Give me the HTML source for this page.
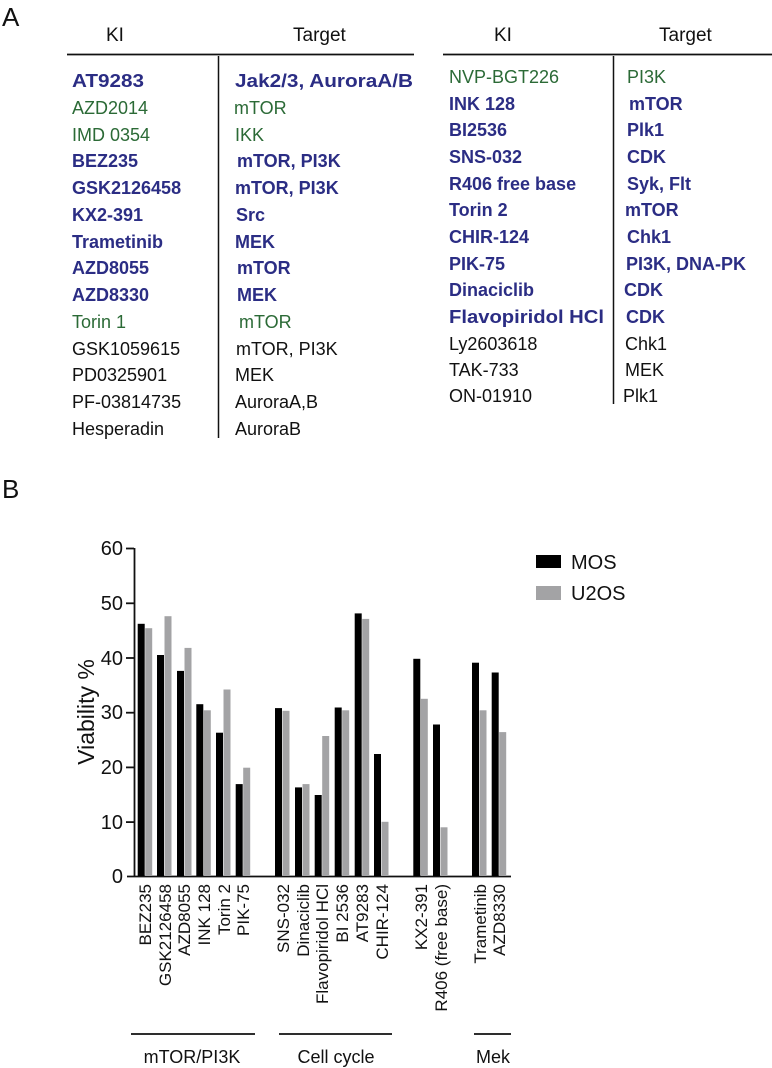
<!DOCTYPE html>
<html><head><meta charset="utf-8"><style>
body{margin:0;background:#fff}
svg{display:block;font-family:"Liberation Sans",sans-serif}
.b{fill:#2b2d84;font-weight:bold}
.g{fill:#2b6a36}
.k{fill:#111}
</style></head><body>
<svg width="772" height="1068" viewBox="0 0 772 1068" xmlns="http://www.w3.org/2000/svg">
<text x="2" y="26" font-size="26" class="k">A</text>
<text x="2" y="498" font-size="26" class="k">B</text>
<!-- left table -->
<text x="106" y="41" font-size="19" class="k">KI</text>
<text x="293" y="41" font-size="19" class="k">Target</text>
<line x1="67" y1="54.5" x2="414" y2="54.5" stroke="#111" stroke-width="1.8"/>
<line x1="218.5" y1="56" x2="218.5" y2="438" stroke="#111" stroke-width="1.5"/>
<g font-size="18">
<text x="72" y="87" class="b" textLength="72" lengthAdjust="spacingAndGlyphs">AT9283</text><text x="235" y="87" class="b" textLength="178" lengthAdjust="spacingAndGlyphs">Jak2/3, AuroraA/B</text>
<text x="72" y="114" class="g">AZD2014</text><text x="234" y="114" class="g">mTOR</text>
<text x="72" y="141" class="g">IMD 0354</text><text x="235" y="141" class="g">IKK</text>
<text x="72" y="167" class="b">BEZ235</text><text x="237" y="167" class="b">mTOR, PI3K</text>
<text x="72" y="194" class="b">GSK2126458</text><text x="235" y="194" class="b">mTOR, PI3K</text>
<text x="72" y="221" class="b">KX2-391</text><text x="236" y="221" class="b">Src</text>
<text x="72" y="248" class="b">Trametinib</text><text x="235" y="248" class="b">MEK</text>
<text x="72" y="274" class="b">AZD8055</text><text x="237" y="274" class="b">mTOR</text>
<text x="72" y="301" class="b">AZD8330</text><text x="237" y="301" class="b">MEK</text>
<text x="72" y="328" class="g">Torin 1</text><text x="239" y="328" class="g">mTOR</text>
<text x="72" y="355" class="k">GSK1059615</text><text x="236" y="355" class="k">mTOR, PI3K</text>
<text x="72" y="381" class="k">PD0325901</text><text x="235" y="381" class="k">MEK</text>
<text x="72" y="408" class="k">PF-03814735</text><text x="235" y="408" class="k">AuroraA,B</text>
<text x="72" y="435" class="k">Hesperadin</text><text x="235" y="435" class="k">AuroraB</text>
</g>
<!-- right table -->
<text x="494" y="41" font-size="19" class="k">KI</text>
<text x="659" y="41" font-size="19" class="k">Target</text>
<line x1="443" y1="54.5" x2="772" y2="54.5" stroke="#111" stroke-width="1.8"/>
<line x1="613.5" y1="56" x2="613.5" y2="404" stroke="#111" stroke-width="1.5"/>
<g font-size="18">
<text x="449" y="83" class="g">NVP-BGT226</text><text x="627" y="83" class="g">PI3K</text>
<text x="449" y="110" class="b">INK 128</text><text x="629" y="110" class="b">mTOR</text>
<text x="449" y="136" class="b">BI2536</text><text x="627" y="136" class="b">Plk1</text>
<text x="449" y="163" class="b">SNS-032</text><text x="627" y="163" class="b">CDK</text>
<text x="449" y="190" class="b">R406 free base</text><text x="627" y="190" class="b">Syk, Flt</text>
<text x="449" y="216" class="b">Torin 2</text><text x="625" y="216" class="b">mTOR</text>
<text x="449" y="243" class="b">CHIR-124</text><text x="627" y="243" class="b">Chk1</text>
<text x="449" y="270" class="b">PIK-75</text><text x="626" y="270" class="b">PI3K, DNA-PK</text>
<text x="449" y="296" class="b">Dinaciclib</text><text x="624" y="296" class="b">CDK</text>
<text x="449" y="323" class="b" textLength="155" lengthAdjust="spacingAndGlyphs">Flavopiridol HCl</text><text x="626" y="323" class="b">CDK</text>
<text x="449" y="350" class="k">Ly2603618</text><text x="625" y="350" class="k">Chk1</text>
<text x="449" y="376" class="k">TAK-733</text><text x="625" y="376" class="k">MEK</text>
<text x="449" y="402" class="k">ON-01910</text><text x="623" y="402" class="k">Plk1</text>
</g>
<!-- chart axes -->
<g stroke="#111" stroke-width="1.8">
<line x1="134.5" y1="548" x2="134.5" y2="877"/>
<line x1="127" y1="876.5" x2="511" y2="876.5"/>
<line x1="126" y1="548.5" x2="134" y2="548.5"/>
<line x1="126" y1="603.3" x2="134" y2="603.3"/>
<line x1="126" y1="658" x2="134" y2="658"/>
<line x1="126" y1="712.7" x2="134" y2="712.7"/>
<line x1="126" y1="767.4" x2="134" y2="767.4"/>
<line x1="126" y1="822.1" x2="134" y2="822.1"/>
</g>
<g font-size="20" class="k" text-anchor="end">
<text x="123" y="555">60</text>
<text x="123" y="610">50</text>
<text x="123" y="665">40</text>
<text x="123" y="719">30</text>
<text x="123" y="774">20</text>
<text x="123" y="829">10</text>
<text x="123" y="883">0</text>
</g>
<text transform="translate(94,712) rotate(-90)" font-size="23" text-anchor="middle" class="k">Viability %</text>
<!-- bars -->
<g fill="#000">
<rect x="137.7" y="623.8" width="7" height="252.2"/>
<rect x="157" y="655" width="7" height="221"/>
<rect x="177" y="670.9" width="7" height="205.1"/>
<rect x="196.3" y="704.2" width="7" height="171.8"/>
<rect x="216" y="732.7" width="7" height="143.3"/>
<rect x="235.7" y="784.1" width="7" height="91.9"/>
<rect x="275" y="708.1" width="7" height="167.9"/>
<rect x="295" y="787.4" width="7" height="88.6"/>
<rect x="314.7" y="795" width="7" height="81"/>
<rect x="334.7" y="707.5" width="7" height="168.5"/>
<rect x="354.7" y="613.4" width="7" height="262.6"/>
<rect x="374" y="754" width="7" height="122"/>
<rect x="413.3" y="658.8" width="7" height="217.2"/>
<rect x="433" y="724.5" width="7" height="151.5"/>
<rect x="472" y="662.7" width="7" height="213.3"/>
<rect x="491.7" y="672.5" width="7" height="203.5"/>
</g>
<g fill="#a3a3a5">
<rect x="145.2" y="628.2" width="7" height="247.8"/>
<rect x="164.5" y="616.2" width="7" height="259.8"/>
<rect x="184.5" y="647.9" width="7" height="228.1"/>
<rect x="203.8" y="710.3" width="7" height="165.7"/>
<rect x="223.5" y="689.5" width="7" height="186.5"/>
<rect x="243.2" y="767.7" width="7" height="108.3"/>
<rect x="282.5" y="710.8" width="7" height="165.2"/>
<rect x="302.5" y="784.1" width="7" height="91.9"/>
<rect x="322.2" y="736" width="7" height="140"/>
<rect x="342.2" y="710.3" width="7" height="165.7"/>
<rect x="362.2" y="618.9" width="7" height="257.1"/>
<rect x="381.5" y="821.8" width="7" height="54.2"/>
<rect x="420.8" y="698.8" width="7" height="177.2"/>
<rect x="440.5" y="827.3" width="7" height="48.7"/>
<rect x="479.5" y="710.3" width="7" height="165.7"/>
<rect x="499.2" y="732.1" width="7" height="143.9"/>
</g>
<!-- x labels -->
<g font-size="17" class="k" text-anchor="end">
<text transform="translate(151,884) rotate(-90)">BEZ235</text>
<text transform="translate(171,884) rotate(-90)">GSK2126458</text>
<text transform="translate(190,884) rotate(-90)">AZD8055</text>
<text transform="translate(210,884) rotate(-90)">INK 128</text>
<text transform="translate(230,884) rotate(-90)">Torin 2</text>
<text transform="translate(249,884) rotate(-90)">PIK-75</text>
<text transform="translate(289,884) rotate(-90)">SNS-032</text>
<text transform="translate(309,884) rotate(-90)">Dinaciclib</text>
<text transform="translate(328,884) rotate(-90)">Flavopiridol HCl</text>
<text transform="translate(348,884) rotate(-90)">BI 2536</text>
<text transform="translate(368,884) rotate(-90)">AT9283</text>
<text transform="translate(388,884) rotate(-90)">CHIR-124</text>
<text transform="translate(427,884) rotate(-90)">KX2-391</text>
<text transform="translate(447,884) rotate(-90)">R406 (free base)</text>
<text transform="translate(486,884) rotate(-90)">Trametinib</text>
<text transform="translate(505,884) rotate(-90)">AZD8330</text>
</g>
<g stroke="#111" stroke-width="1.8">
<line x1="131" y1="1034" x2="255" y2="1034"/>
<line x1="279" y1="1034" x2="392" y2="1034"/>
<line x1="474" y1="1034" x2="511" y2="1034"/>
</g>
<g font-size="18" class="k" text-anchor="middle">
<text x="192" y="1063">mTOR/PI3K</text>
<text x="336" y="1063">Cell cycle</text>
<text x="493" y="1063">Mek</text>
</g>
<!-- legend -->
<rect x="536" y="555" width="25" height="13" fill="#000"/>
<rect x="536" y="586" width="25" height="14" fill="#a3a3a5"/>
<text x="571" y="569" font-size="20" class="k">MOS</text>
<text x="571" y="600" font-size="20" class="k">U2OS</text>
</svg>
</body></html>
